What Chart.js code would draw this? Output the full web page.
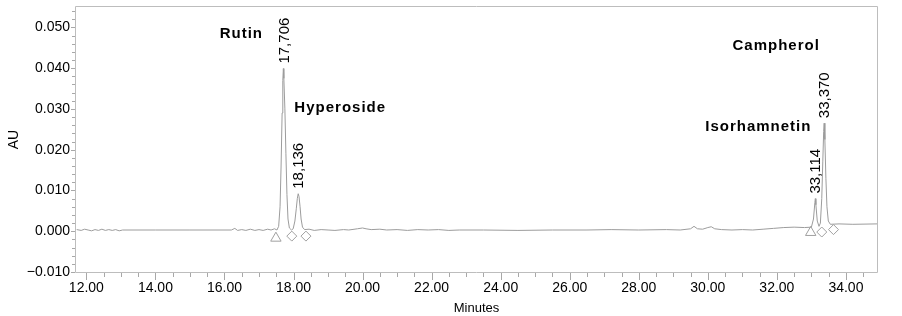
<!DOCTYPE html>
<html lang="en">
<head>
<meta charset="UTF-8">
<title>Chromatogram</title>
<script src="https://cdn.jsdelivr.net/npm/chart.js"></script>
<style>
  html, body { margin: 0; padding: 0; background: #ffffff; }
</style>
</head>
<body>
<canvas id="chrom" width="902" height="316"></canvas>
<script>
// detector trace: retention time (min) and absorbance (AU)
const traceTimes = [
  11.72, 11.85, 11.95, 12.05, 12.15, 12.25, 12.35, 12.45, 12.55, 12.65, 12.75, 12.85, 12.95, 13.05,
  14.00, 15.00, 16.20, 16.30, 16.38, 16.50, 16.62, 16.75, 16.88, 17.00, 17.12, 17.25, 17.35, 17.45,
  17.52, 17.57, 17.61, 17.64, 17.67, 17.69, 17.706, 17.72, 17.75, 17.78, 17.81, 17.84, 17.88, 17.94,
  17.99, 18.04, 18.08, 18.11, 18.136, 18.16, 18.19, 18.22, 18.26, 18.32, 18.45, 18.60, 18.80, 19.00,
  19.20, 19.45, 19.60, 19.85, 20.00, 20.10, 20.25, 20.50, 20.70, 21.00, 21.30, 21.60, 21.90, 22.20,
  22.50, 22.80, 23.50, 24.50, 25.50, 26.50, 27.20, 28.00, 28.80, 29.20, 29.50, 29.60, 29.70, 29.85,
  30.00, 30.10, 30.20, 30.40, 30.70, 31.00, 31.30, 31.60, 31.90, 32.20, 32.50, 32.80, 33.00, 33.06,
  33.10, 33.114, 33.13, 33.17, 33.22, 33.26, 33.30, 33.33, 33.355, 33.370, 33.39, 33.42, 33.45, 33.49,
  33.55, 33.80, 34.20, 34.90
];
const traceAU = [
  0.0004, 0.0002, 0.0005, 0.0003, 0.0001, 0.0004, 0.0002, 0.0005, 0.0002, 0.0004, 0.0002, 0.0004, 0.0001, 0.0003,
  0.0003, 0.0003, 0.0003, 0.0007, 0.0002, 0.0004, 0.0002, 0.0005, 0.0002, 0.0004, 0.0002, 0.0005, 0.0003, 0.0006,
  0.0003, 0.0012, 0.0060, 0.0160, 0.0290, 0.0370, 0.0399, 0.0375, 0.0300, 0.0190, 0.0090, 0.0030, 0.0008, 0.0003,
  0.0006, 0.0025, 0.0055, 0.0080, 0.0092, 0.0085, 0.0060, 0.0030, 0.0010, 0.0004, 0.0005, 0.0002, 0.0004, 0.0003,
  0.0002, 0.0004, 0.0003, 0.0006, 0.0008, 0.0006, 0.0004, 0.0005, 0.0003, 0.0004, 0.0002, 0.0004, 0.0003, 0.0004,
  0.0002, 0.0003, 0.0003, 0.0002, 0.0003, 0.0003, 0.0004, 0.0003, 0.0004, 0.0003, 0.0006, 0.0012, 0.0006, 0.0005,
  0.0009, 0.0011, 0.0006, 0.0004, 0.0003, 0.0004, 0.0003, 0.0005, 0.0007, 0.0009, 0.0010, 0.0009, 0.0010, 0.0030,
  0.0070, 0.0080, 0.0065, 0.0025, 0.0012, 0.0020, 0.0080, 0.0170, 0.0245, 0.0265, 0.0225, 0.0130, 0.0060, 0.0025,
  0.0017, 0.0018, 0.0017, 0.0018
];

// integrated peaks
const peakNames = ['Rutin', 'Hyperoside', 'Isorhamnetin', 'Campherol'];
const peakTimes = [17.706, 18.136, 33.114, 33.370];
const peakHeights = [0.0399, 0.0092, 0.0080, 0.0265];
const peakLabels = ['17,706', '18,136', '33,114', '33,370'];

// peak start (triangle) and end (diamond) marks
const startTimes = [17.49, 32.98];
const startAU = [-0.0017, -0.0003];
const endTimes = [17.95, 18.36, 33.30, 33.64];
const endAU = [-0.0012, -0.0012, -0.0002, 0.0004];

// axis ticks
const xTickValues = [12, 14, 16, 18, 20, 22, 24, 26, 28, 30, 32, 34];
const yTickValues = [-0.010, 0.000, 0.010, 0.020, 0.030, 0.040, 0.050];

const FONT = "'Liberation Sans', Arial, sans-serif";
Chart.defaults.font.family = FONT;
Chart.defaults.color = '#000';

// name label offsets from the peak apex (px)
const nameOffsets = [[-42, -35], [42, -86], [-57, -72], [-48, -77]];

const overlay = {
  id: 'overlay',
  afterDraw(chart) {
    const { ctx, chartArea: a, scales: { x, y } } = chart;
    ctx.save();

    // frame
    ctx.strokeStyle = '#bdbdbd';
    ctx.lineWidth = 1;
    ctx.beginPath();
    ctx.moveTo(a.left - 0.5, a.top - 0.5);
    ctx.lineTo(a.right + 0.5, a.top - 0.5);
    ctx.lineTo(a.right + 0.5, a.bottom + 0.5);
    ctx.lineTo(a.left - 0.5, a.bottom + 0.5);
    ctx.closePath();
    ctx.stroke();

    // tick marks, major and minor
    ctx.strokeStyle = '#a8a8a8';
    ctx.beginPath();
    for (let k = 24; k <= 69; k++) {
      const px = Math.round(x.getPixelForValue(k / 2)) + 0.5;
      if (px > a.right) break;
      const len = k % 4 === 0 ? 7 : 4;
      ctx.moveTo(px, a.bottom + 1);
      ctx.lineTo(px, a.bottom + 1 + len);
    }
    for (let k = -5; k <= 27; k++) {
      const py = Math.round(y.getPixelForValue(k * 0.002)) + 0.5;
      const len = k % 5 === 0 ? 4 : 3;
      ctx.moveTo(a.left - 1, py);
      ctx.lineTo(a.left - 1 - len, py);
    }
    ctx.stroke();

    // retention time labels, rotated
    ctx.fillStyle = '#000';
    ctx.font = '15px ' + FONT;
    ctx.textAlign = 'left';
    ctx.textBaseline = 'middle';
    peakTimes.forEach((t, i) => {
      const px = x.getPixelForValue(t);
      const py = y.getPixelForValue(peakHeights[i]);
      ctx.save();
      ctx.translate(px + 1, py - 5);
      ctx.rotate(-Math.PI / 2);
      ctx.fillText(peakLabels[i], 0, 0);
      ctx.restore();
    });

    // compound names
    ctx.font = 'bold 15px ' + FONT;
    ctx.letterSpacing = '1px';
    ctx.textAlign = 'center';
    peakTimes.forEach((t, i) => {
      const px = x.getPixelForValue(t);
      const py = y.getPixelForValue(peakHeights[i]);
      ctx.fillText(peakNames[i], px + nameOffsets[i][0], py + nameOffsets[i][1]);
    });
    ctx.restore();
  }
};

new Chart(document.getElementById('chrom'), {
  type: 'line',
  data: {
    datasets: [
      {
        data: traceTimes.map((t, i) => ({ x: t, y: traceAU[i] })),
        borderColor: '#9c9c9c',
        borderWidth: 1,
        pointRadius: 0,
        tension: 0
      },
      {
        data: startTimes.map((t, i) => ({ x: t, y: startAU[i] })),
        showLine: false,
        pointStyle: 'triangle',
        pointRadius: 6,
        pointBorderWidth: 1,
        pointBorderColor: '#a0a0a0',
        pointBackgroundColor: 'rgba(0,0,0,0)'
      },
      {
        data: endTimes.map((t, i) => ({ x: t, y: endAU[i] })),
        showLine: false,
        pointStyle: 'rectRot',
        pointRadius: 5,
        pointBorderWidth: 1,
        pointBorderColor: '#a0a0a0',
        pointBackgroundColor: 'rgba(0,0,0,0)'
      }
    ]
  },
  options: {
    responsive: false,
    animation: false,
    layout: { padding: { top: 3, right: 25, left: 0, bottom: 0 } },
    plugins: { legend: { display: false }, tooltip: { enabled: false } },
    scales: {
      x: {
        type: 'linear',
        min: 11.7,
        max: 34.9,
        grid: { display: false, drawTicks: false },
        border: { display: false },
        afterBuildTicks: s => { s.ticks = xTickValues.map(v => ({ value: v })); },
        afterFit: s => { s.height = 44; s.paddingLeft = 0; s.paddingRight = 0; },
        ticks: {
          padding: 8,
          maxRotation: 0,
          font: { size: 14 },
          callback: v => v.toFixed(2)
        },
        title: {
          display: true,
          text: 'Minutes',
          font: { size: 13 },
          padding: { top: 0, bottom: 0 }
        }
      },
      y: {
        min: -0.010,
        max: 0.055,
        grid: { display: false, drawTicks: false },
        border: { display: false },
        afterBuildTicks: s => { s.ticks = yTickValues.map(v => ({ value: v })); },
        afterFit: s => { s.width = 76; s.paddingTop = 0; s.paddingBottom = 0; },
        ticks: {
          padding: 6,
          font: { size: 14 },
          callback: v => (v < 0 ? '\u2212' + Math.abs(v).toFixed(3) : v.toFixed(3))
        },
        title: {
          display: true,
          text: 'AU',
          font: { size: 14 },
          padding: { top: 6, bottom: 0 }
        }
      }
    }
  },
  plugins: [overlay]
});
</script>
</body>
</html>
